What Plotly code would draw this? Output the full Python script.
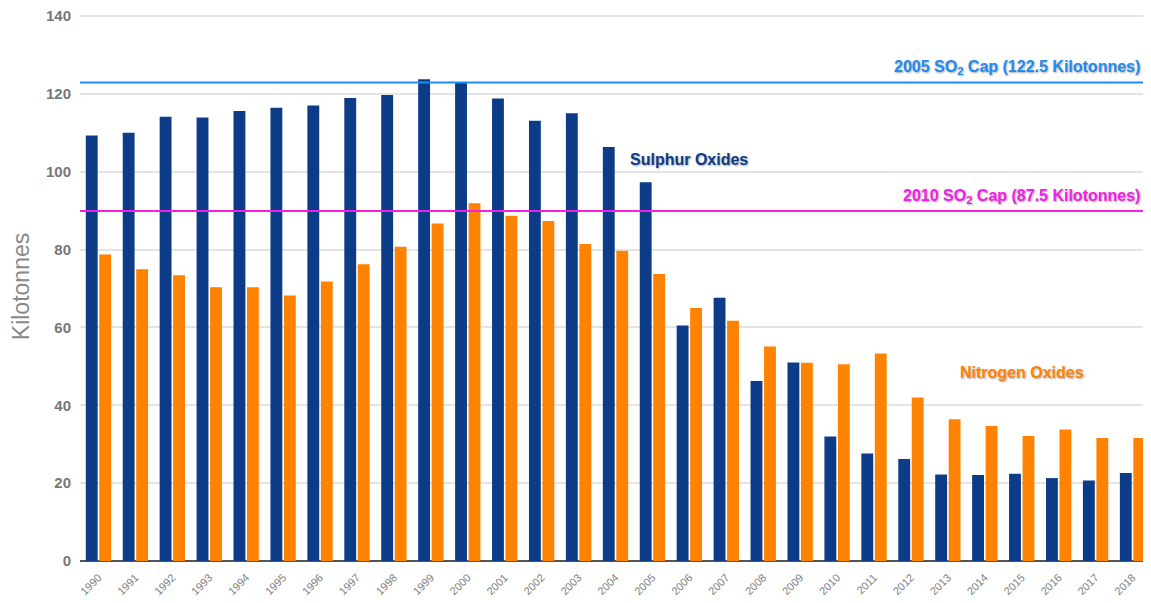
import plotly.graph_objects as go

years = [str(y) for y in range(1990, 2019)]
sulphur_oxides = [109.3, 110.0, 114.1, 113.9, 115.6, 116.4, 117.0, 118.9, 119.7, 123.7,
                  122.8, 118.8, 113.1, 115.0, 106.3, 97.3, 60.5, 67.6, 46.2, 51.0,
                  32.0, 27.6, 26.2, 22.2, 22.1, 22.4, 21.3, 20.7, 22.6]
nitrogen_oxides = [78.7, 74.9, 73.4, 70.3, 70.3, 68.2, 71.8, 76.2, 80.7, 86.7,
                   91.9, 88.7, 87.3, 81.4, 79.7, 73.7, 65.0, 61.7, 55.1, 50.9,
                   50.5, 53.3, 42.0, 36.4, 34.7, 32.1, 33.8, 31.6, 31.6]
cap_2005 = 122.9
cap_2010 = 89.9
y_ticks = [0, 20, 40, 60, 80, 100, 120, 140]

NAVY = "#0c3c88"
ORANGE = "#ff8200"
BLUE = "#1e8cf0"
MAGENTA = "#f020e8"
FONT = "Liberation Sans, Arial, sans-serif"
SHADOW = "1px 1px 2px rgba(0,0,0,0.35)"

fig = go.Figure()
fig.add_trace(go.Bar(x=years, y=sulphur_oxides, name="Sulphur Oxides",
                     marker=dict(color=NAVY, line=dict(width=0))))
fig.add_trace(go.Bar(x=years, y=nitrogen_oxides, name="Nitrogen Oxides",
                     marker=dict(color=ORANGE, line=dict(width=0))))

fig.add_shape(type="line", xref="paper", yref="y", x0=0, x1=1, y0=cap_2005, y1=cap_2005,
              line=dict(color=BLUE, width=2))
fig.add_shape(type="line", xref="paper", yref="y", x0=0, x1=1, y0=cap_2010, y1=cap_2010,
              line=dict(color=MAGENTA, width=2))

fig.add_annotation(xref="paper", yref="y", x=0.992, y=cap_2005, xanchor="right", yanchor="bottom",
                   yshift=3, showarrow=False,
                   text="<b>2005 SO<sub>2</sub> Cap (122.5 Kilotonnes)</b>",
                   font=dict(family=FONT, size=16, color=BLUE, shadow=SHADOW))
fig.add_annotation(xref="paper", yref="y", x=0.992, y=cap_2010, xanchor="right", yanchor="bottom",
                   yshift=3, showarrow=False,
                   text="<b>2010 SO<sub>2</sub> Cap (87.5 Kilotonnes)</b>",
                   font=dict(family=FONT, size=16, color=MAGENTA, shadow=SHADOW))
fig.add_annotation(x=16, y=103.2, xanchor="center", yanchor="middle", showarrow=False,
                   text="<b>Sulphur Oxides</b>",
                   font=dict(family=FONT, size=16, color=NAVY, shadow=SHADOW))
fig.add_annotation(x=25, y=48.5, xanchor="center", yanchor="middle", showarrow=False,
                   text="<b>Nitrogen Oxides</b>",
                   font=dict(family=FONT, size=16, color=ORANGE, shadow=SHADOW))

# page body has an 8px default margin; figure sized to fit the 1151x603 window
fig.update_layout(
    width=1143, height=595,
    margin=dict(l=72, r=0, t=4, b=42),
    paper_bgcolor="white", plot_bgcolor="white",
    barmode="group", bargap=0.27, bargroupgap=0.12,
    showlegend=False,
    font=dict(family=FONT, color="#777777"),
    xaxis=dict(type="category", range=[-0.5, len(years) - 0.5],
               tickangle=-45, tickfont=dict(size=11, color="#808080"),
               showgrid=False, showline=False, ticks="", ticklabelstandoff=7,
               automargin=False),
    yaxis=dict(range=[0, 141], tickvals=y_ticks,
               ticktext=[f"<b>{v}</b>" for v in y_ticks],
               tickfont=dict(size=15, color="#777777"),
               gridcolor="#e4e4e4", gridwidth=1.5, zeroline=True, zerolinecolor="#555555",
               zerolinewidth=2, showline=False, ticks="", ticklen=0, ticklabelstandoff=8,
               ticklabeloverflow="allow",
               title=dict(text="Kilotonnes", font=dict(size=23, color="#888888"), standoff=10),
               automargin=False),
)

fig.write_html("out.html")
